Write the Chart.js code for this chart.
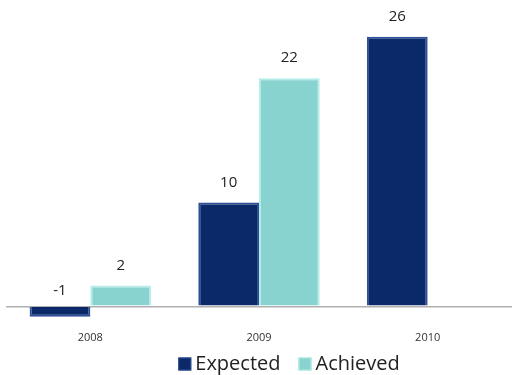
<!DOCTYPE html>
<html>
<head>
<meta charset="utf-8">
<script src="https://cdn.jsdelivr.net/npm/chart.js@4/dist/chart.umd.min.js"></script>
<style>
  html, body { margin: 0; padding: 0; background: #fff; }
  #wrap { width: 512px; height: 375px; }
</style>
</head>
<body>
<div id="wrap"><canvas id="barChart"></canvas></div>
<script>
// data
let years = ['2008', '2009', '2010'];
let expected = [-1, 10, 26];
let achieved = [2, 22, null];
let seriesNames = ['Expected', 'Achieved'];

let navy = '#0b2868';
let teal = '#88d3cf';

// value labels above bars
let valueLabels = {
    id: 'valueLabels',
    afterDatasetsDraw(chart) {
        let ctx = chart.ctx;
        ctx.save();
        ctx.font = '15px "Open Sans", sans-serif';
        ctx.fillStyle = '#222';
        ctx.textAlign = 'center';
        ctx.textBaseline = 'middle';
        chart.data.datasets.forEach(function(ds, i) {
            let meta = chart.getDatasetMeta(i);
            meta.data.forEach(function(bar, j) {
                let v = ds.data[j];
                if (v === null) return;
                let top = Math.min(bar.y, bar.base);
                ctx.fillText(String(v), bar.x, top - (v < 0 ? 16 : 20));
            });
        });
        ctx.restore();
    }
};

// legend drawn a bit right of centre, like the original
let sideLegend = {
    id: 'sideLegend',
    afterDraw(chart) {
        let ctx = chart.ctx;
        ctx.save();
        ctx.font = '20px "Open Sans", sans-serif';
        ctx.textBaseline = 'middle';
        ctx.fillStyle = '#222';
        let box = 13, gap = 4, between = 18;
        let widths = chart.data.datasets.map(d => box + gap + ctx.measureText(d.label).width);
        let total = widths.reduce((a, b) => a + b, 0) + between;
        let x = 289 - total / 2;
        let y = 364;
        chart.data.datasets.forEach(function(d, i) {
            ctx.fillStyle = d.backgroundColor;
            ctx.fillRect(x, y - box / 2, box, box);
            ctx.strokeStyle = d.borderColor;
            ctx.lineWidth = 1;
            ctx.strokeRect(x + 0.5, y - box / 2 + 0.5, box - 1, box - 1);
            ctx.fillStyle = '#222';
            ctx.fillText(d.label, x + box + gap, y);
            x += widths[i] + between;
        });
        ctx.restore();
    }
};

new Chart(document.getElementById('barChart').getContext('2d'), {
    type: 'bar',
    data: {
        labels: years,
        datasets: [
            { label: seriesNames[0], data: expected, backgroundColor: navy, borderColor: '#2c4f98', borderWidth: 2 },
            { label: seriesNames[1], data: achieved, backgroundColor: teal, borderColor: '#b4ece9', borderWidth: 2 }
        ]
    },
    options: {
        responsive: true,
        maintainAspectRatio: false,
        animation: false,
        layout: { padding: { left: 6, right: -6, top: 16, bottom: 0 } },
        categoryPercentage: 0.72,
        barPercentage: 1,
        plugins: {
            legend: { display: false },
            tooltip: { enabled: false }
        },
        scales: {
            x: {
                grid: { display: false, drawTicks: false },
                border: { display: false },
                ticks: { color: '#333', padding: 4, font: { size: 11, family: '"Open Sans", sans-serif' } },
                afterFit: function(scale) { scale.height = 48; }
            },
            y: {
                min: -2,
                max: 28,
                border: { display: false },
                ticks: { display: false, stepSize: 1 },
                grid: {
                    drawTicks: false,
                    lineWidth: 1.5,
                    color: c => c.tick && c.tick.value === 0 ? '#b0b0b0' : 'rgba(0,0,0,0)'
                },
                afterFit: function(scale) { scale.width = 0; }
            }
        }
    },
    plugins: [valueLabels, sideLegend]
});
</script>
</body>
</html>
